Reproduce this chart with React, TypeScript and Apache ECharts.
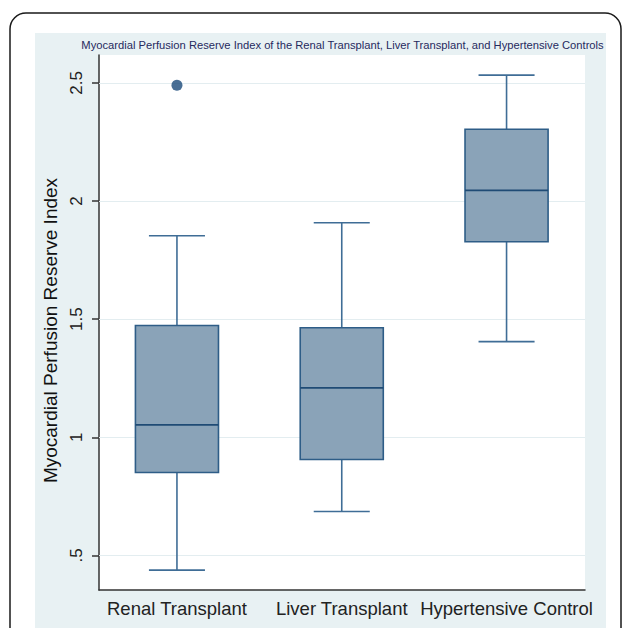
import React, { useEffect, useRef } from "react";
import * as echarts from "echarts";

const categories = ["Renal Transplant", "Liver Transplant", "Hypertensive Control"];
const positions = [1, 2, 3];
const whiskerLow = [0.438, 0.686, 1.405];
const q1 = [0.851, 0.906, 1.828];
const median = [1.053, 1.209, 2.045];
const q3 = [1.473, 1.464, 2.304];
const whiskerHigh = [1.853, 1.908, 2.533];
const outliers = [[1, 2.49]];
const yTicks = [0.5, 1, 1.5, 2, 2.5];

const TITLE =
  "Myocardial Perfusion Reserve Index of the Renal Transplant, Liver Transplant, and Hypertensive Controls";

const BOX_W = 0.504;
const CAP_W = 0.34;

export default function App() {
  const ref = useRef<HTMLDivElement>(null);
  useEffect(() => {
    if (!ref.current) return;
    const chart = echarts.init(ref.current, undefined, { renderer: "svg" });
    const boxData = positions.map((p, i) => [p, whiskerLow[i], q1[i], median[i], q3[i], whiskerHigh[i]]);
    const font = "Liberation Sans, Arial, Helvetica, sans-serif";
    chart.setOption({
      animation: false,
      backgroundColor: "#ffffff",
      graphic: [
        {
          type: "rect",
          z: -100,
          shape: { x: 35, y: 33, width: 571, height: 620 },
          style: { fill: "#e8f1f3" },
          silent: true,
        },
        {
          type: "rect",
          z: 100,
          shape: { x: 10, y: 13, width: 611, height: 700, r: 16 },
          style: { fill: "none", stroke: "#1a1a1a", lineWidth: 1.5 },
          silent: true,
        },
        {
          type: "text",
          z: 100,
          x: 342.5,
          y: 45,
          style: {
            text: TITLE,
            fontSize: 11.2,
            fontFamily: font,
            fill: "#262a5e",
            align: "center",
            verticalAlign: "middle",
          },
        },
      ],
      grid: {
        left: 99,
        right: 45,
        top: 55,
        bottom: 38,
        show: true,
        backgroundColor: "#ffffff",
        borderWidth: 0,
      },
      xAxis: {
        type: "value",
        min: 0.527,
        max: 3.476,
        axisLine: { show: true, lineStyle: { color: "#333", width: 1.5 } },
        axisTick: { show: false },
        splitLine: { show: false },
        axisLabel: {
          customValues: positions,
          formatter: (v: number) => categories[Math.round(v) - 1],
          fontSize: 18.5,
          fontFamily: font,
          color: "#222",
          margin: 9,
        },
      },
      yAxis: {
        type: "value",
        min: 0.354,
        max: 2.618,
        name: "Myocardial Perfusion Reserve Index",
        nameLocation: "middle",
        nameGap: 38,
        nameRotate: 90,
        nameTextStyle: { fontSize: 19, fontFamily: font, color: "#111", padding: [0, 16, 0, 0] },
        axisLine: { show: true, lineStyle: { color: "#333", width: 1.5 } },
        axisTick: { show: true, customValues: yTicks, length: 7, lineStyle: { color: "#333", width: 1.5 } },
        splitLine: { show: false },
        axisLabel: {
          customValues: yTicks,
          rotate: 90,
          formatter: (v: number) => String(v).replace(/^0\./, "."),
          fontSize: 17,
          fontFamily: font,
          color: "#222",
          margin: 14,
        },
      },
      series: [
        {
          type: "line",
          data: [],
          z: 1,
          silent: true,
          markLine: {
            z: 1,
            silent: true,
            symbol: ["none", "none"],
            label: { show: false },
            lineStyle: { color: "#e3edf0", type: "solid", width: 1.2 },
            data: yTicks.map((t) => ({ yAxis: t })),
          },
        },
        {
          type: "custom",
          z: 3,
          data: boxData,
          encode: { x: 0, y: [1, 2, 3, 4, 5] },
          renderItem: (params: any, api: any) => {
            const x = api.value(0);
            const lo = api.coord([x, api.value(1)]);
            const pq1 = api.coord([x, api.value(2)]);
            const pmed = api.coord([x, api.value(3)]);
            const pq3 = api.coord([x, api.value(4)]);
            const hi = api.coord([x, api.value(5)]);
            const half = api.size([BOX_W, 0])[0] / 2;
            const capHalf = api.size([CAP_W, 0])[0] / 2;
            const cx = lo[0];
            const wStyle = { stroke: "#3f6d96", lineWidth: 1.6 };
            return {
              type: "group",
              children: [
                { type: "line", shape: { x1: cx, y1: lo[1], x2: cx, y2: pq1[1] }, style: wStyle },
                { type: "line", shape: { x1: cx, y1: pq3[1], x2: cx, y2: hi[1] }, style: wStyle },
                { type: "line", shape: { x1: cx - capHalf, y1: lo[1], x2: cx + capHalf, y2: lo[1] }, style: wStyle },
                { type: "line", shape: { x1: cx - capHalf, y1: hi[1], x2: cx + capHalf, y2: hi[1] }, style: wStyle },
                {
                  type: "rect",
                  shape: { x: cx - half, y: pq3[1], width: half * 2, height: pq1[1] - pq3[1] },
                  style: { fill: "#8aa3b8", stroke: "#2e5d87", lineWidth: 1.6 },
                },
                {
                  type: "line",
                  shape: { x1: cx - half, y1: pmed[1], x2: cx + half, y2: pmed[1] },
                  style: { stroke: "#1f4b75", lineWidth: 1.8 },
                },
              ],
            };
          },
        },
        {
          type: "scatter",
          z: 4,
          data: outliers,
          symbol: "circle",
          symbolSize: 11,
          itemStyle: { color: "#1a4a7a" },
        },
      ],
    });
    return () => chart.dispose();
  }, []);
  return (
    <div
      ref={ref}
      style={{ position: "absolute", left: 0, top: 0, width: 630, height: 628 }}
    />
  );
}
